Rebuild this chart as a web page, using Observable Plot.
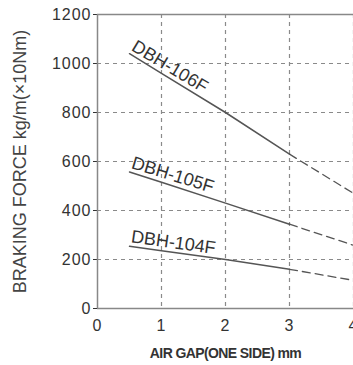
<!DOCTYPE html>
<html>
<head>
<meta charset="utf-8">
<script src="https://cdn.jsdelivr.net/npm/d3@7"></script>
<script src="https://cdn.jsdelivr.net/npm/@observablehq/plot@0.6"></script>
<style>
  html, body { margin: 0; padding: 0; background: #fff; overflow: hidden; }
</style>
</head>
<body>
<div id="chart"></div>
<script>
// ---- data ----
const seriesNames = ["DBH-106F", "DBH-105F", "DBH-104F"];
const gap = [0.5, 1, 2, 3, 4];
const f106 = [1040, 960, 800, 630, 470];
const f105 = [557, 515, 430, 344, 258];
const f104 = [254, 236, 200, 160, 115];
const solidEnd = 3;
const xTicks = [0, 1, 2, 3, 4];
const yTicks = [0, 200, 400, 600, 800, 1000, 1200];
const xGrid = [1, 2, 3, 4];
const yGrid = [200, 400, 600, 800, 1000];
const labelAngles = [31, 17, 8];
const xLabel = "AIR GAP(ONE SIDE) mm";
const yLabel = "BRAKING FORCE kg/m(\u00d710Nm)";

const values = [f106, f105, f104];
const solid = [], dashed = [], labels = [];
seriesNames.forEach((name, i) => {
  gap.forEach((g, j) => {
    const p = {series: name, gap: g, force: values[i][j]};
    if (g <= solidEnd) solid.push(p);
    if (g >= solidEnd) dashed.push(p);
  });
  labels.push({series: name, gap: gap[0], force: values[i][0], angle: labelAngles[i]});
});

const font = "'Liberation Sans', Arial, Helvetica, sans-serif";
const lineColor = "#555";
const gridColor = "#8a8a8a";

const chart = Plot.plot({
  width: 353,
  height: 365,
  marginLeft: 97,
  marginRight: 0,
  marginTop: 14,
  marginBottom: 57,
  style: {fontFamily: font, fontSize: "16px", color: "#333", background: "#fff", overflow: "visible"},
  x: {domain: [0, 4], ticks: xTicks, tickSize: 0, tickPadding: 11, label: null, tickFormat: d => String(d)},
  y: {domain: [0, 1200], ticks: yTicks, tickSize: 4, tickPadding: 2, label: null, tickFormat: d => String(d)},
  marks: [
    Plot.ruleX(xGrid, {stroke: gridColor, strokeWidth: 1.2, strokeDasharray: "4 4", shapeRendering: "geometricPrecision"}),
    Plot.ruleY(yGrid, {stroke: gridColor, strokeWidth: 1.2, strokeDasharray: "4 4", shapeRendering: "geometricPrecision"}),
    Plot.ruleY([1200], {stroke: "#888", strokeWidth: 1.5}),
    Plot.ruleY([0], {stroke: "#888", strokeWidth: 1.5}),
    Plot.ruleX([0], {stroke: "#888", strokeWidth: 1.5}),
    Plot.line(solid, {x: "gap", y: "force", z: "series", stroke: lineColor, strokeWidth: 1.5}),
    Plot.line(dashed, {x: "gap", y: "force", z: "series", stroke: lineColor, strokeWidth: 1.3, strokeDasharray: "8 5"}),
    Plot.text(labels, {x: "gap", y: "force", text: "series", rotate: "angle", textAnchor: "start", lineAnchor: "bottom", dy: -4, dx: 1, fontSize: 18, fill: "#333"}),
    Plot.text([yLabel], {frameAnchor: "left", rotate: -90, dx: -77, textAnchor: "middle", lineAnchor: "middle", fontSize: 18, fill: "#444"}),
    Plot.text([xLabel], {frameAnchor: "bottom", dy: 45, textAnchor: "middle", lineAnchor: "middle", fontSize: 14, fill: "#333", fontWeight: "bold"})
  ]
});

document.getElementById("chart").appendChild(chart);
d3.select(chart).selectAll("text").each(function() {
  const t = this.textContent;
  if (/^\d+$/.test(t)) this.style.letterSpacing = "1px";
  if (t === xLabel) this.style.letterSpacing = "-0.6px";
});
// dashed rules: make sure they are drawn without crisp-edge snapping
d3.select(chart).selectAll("[stroke-dasharray]").attr("shape-rendering", "geometricPrecision");
</script>
</body>
</html>
